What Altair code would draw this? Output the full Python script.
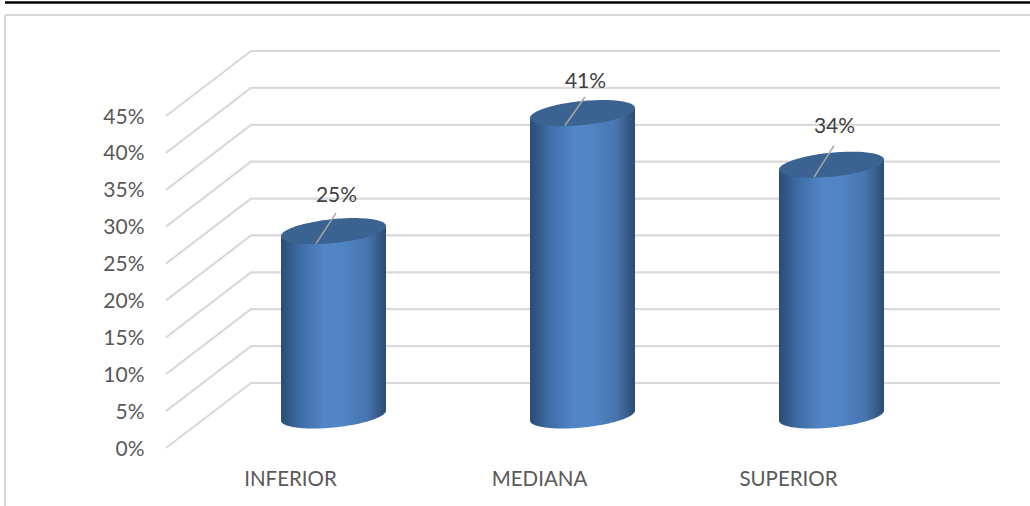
import numpy as np
import pandas as pd
import altair as alt

# Chart content
categories = ["INFERIOR", "MEDIANA", "SUPERIOR"]
values = [25, 41, 34]
tick_values = [0, 5, 10, 15, 20, 25, 30, 35, 40, 45]

# Scale factors and 3D projection, in axis units
PX_PER_PCT = 332 / 45
PX_PER_CAT = 249
DEPTH_X = 85 / PX_PER_CAT
DEPTH_Y = 65 / PX_PER_PCT
RADIUS_X = 52.5 / PX_PER_CAT
RADIUS_Y = 12 / PX_PER_PCT
TILT = 5 / PX_PER_PCT
LABEL_LIFT_PX = [35.5, 31.5, 37.5]
LEADER_TOP_PX = [18, 16, 19]

x_scale = alt.Scale(domain=[-125 / PX_PER_CAT, 709 / PX_PER_CAT], nice=False, zero=False)
y_scale = alt.Scale(domain=[0, 45 + DEPTH_Y], nice=False, zero=False)

FONT = "Lato"

label_expr = "+".join(
    [f"(datum.value=={i}?'{c}':'')" for i, c in enumerate(categories)]
)

x_axis = alt.Axis(
    values=[0, 1, 2], labelExpr=label_expr, title=None, grid=False, ticks=False,
    domain=False, labelPadding=31, labelFont=FONT, labelFontSize=20.5, labelOffset=-1,
    labelColor="#595959", labelBaseline="middle", labelOverlap=False, labelFlush=False)
y_axis = alt.Axis(
    values=tick_values, labelExpr="datum.value + '%'", title=None, grid=False,
    ticks=False, domain=False, labelPadding=22, labelFont=FONT, labelFontSize=21,
    labelOffset=1, labelColor="#595959", labelOverlap=False, labelFlush=False)


def xy(y_field="y"):
    """Position channels shared by every data layer."""
    return {
        "x": alt.X("x:Q", scale=x_scale, axis=x_axis),
        "y": alt.Y(f"{y_field}:Q", scale=y_scale, axis=y_axis),
    }


def arc_rows(bar, value):
    """Sample one cylinder: body outline and top cap, tilted to the right."""
    cx = bar + DEPTH_X / 2
    top = value + DEPTH_Y / 2
    base = DEPTH_Y / 2
    rows = []
    for t in np.linspace(np.pi, 0, 61):
        c, s = np.cos(t), np.sin(t)
        rows.append({
            "bar": bar,
            "x": cx + RADIUS_X * c,
            "body_top": top + TILT * c,
            "body_bottom": base + TILT * c - RADIUS_Y * s,
            "cap_top": top + TILT * c + RADIUS_Y * s,
            "cap_bottom": top + TILT * c - RADIUS_Y * s,
        })
    return rows


cyl = pd.DataFrame([r for i, v in enumerate(values) for r in arc_rows(i, v)])

grid = pd.DataFrame([
    row
    for v in tick_values
    for row in (
        {"tick": v, "x": -125 / PX_PER_CAT, "y": v},
        {"tick": v, "x": -125 / PX_PER_CAT + DEPTH_X, "y": v + DEPTH_Y},
        {"tick": v, "x": 709 / PX_PER_CAT, "y": v + DEPTH_Y},
    )
])

leaders = pd.DataFrame([
    row
    for i, v in enumerate(values)
    for row in (
        {"bar": i, "x": i + DEPTH_X / 2 + 2.5 / PX_PER_CAT,
         "y": v + DEPTH_Y / 2 + LEADER_TOP_PX[i] / PX_PER_PCT},
        {"bar": i, "x": i + DEPTH_X / 2 - 17.5 / PX_PER_CAT,
         "y": v + DEPTH_Y / 2 - 12.5 / PX_PER_PCT},
    )
])

labels = pd.DataFrame({
    "x": [i + DEPTH_X / 2 + 3 / PX_PER_CAT for i in range(3)],
    "y": [v + DEPTH_Y / 2 + LABEL_LIFT_PX[i] / PX_PER_PCT for i, v in enumerate(values)],
    "text": [f"{v}%" for v in values],
})

gridlines = alt.Chart(grid).mark_line(color="#d9d9d9", strokeWidth=2.2).encode(
    **xy(), detail="tick:N", order="x:Q",
)

body_fill = alt.Gradient(
    gradient="linear", x1=0, x2=1, y1=0, y2=0,
    stops=[
        alt.GradientStop(color="#2b4b75", offset=0),
        alt.GradientStop(color="#3f6ca6", offset=0.18),
        alt.GradientStop(color="#5386c8", offset=0.42),
        alt.GradientStop(color="#5084c4", offset=0.6),
        alt.GradientStop(color="#4775ae", offset=0.82),
        alt.GradientStop(color="#2c4b73", offset=1),
    ],
)

bodies = alt.Chart(cyl).mark_area(fill=body_fill).encode(
    **xy("body_top"), y2="body_bottom:Q", detail="bar:N",
)

caps = alt.Chart(cyl).mark_area(fill="#3b6392").encode(
    **xy("cap_top"), y2="cap_bottom:Q", detail="bar:N",
)

leader_lines = alt.Chart(leaders).mark_line(color="#a6a6a6", strokeWidth=1.5).encode(
    **xy(), detail="bar:N",
)

value_labels = alt.Chart(labels).mark_text(
    font=FONT, fontSize=21, color="#404040", baseline="middle", align="center"
).encode(**xy(), text="text:N")

# Frame drawn around the figure: heavy rule at the very top, light border below it
frame_anchor = alt.Chart(pd.DataFrame({"a": [0]}))
top_rule = frame_anchor.mark_rule(color="#000000", strokeWidth=2.5).encode(
    x=alt.value(-161), x2=alt.value(864), y=alt.value(-48.5))
border_top = frame_anchor.mark_rule(color="#d9d9d9", strokeWidth=2).encode(
    x=alt.value(-161), x2=alt.value(864), y=alt.value(-36))
border_left = frame_anchor.mark_rule(color="#d9d9d9", strokeWidth=2).encode(
    x=alt.value(-161), y=alt.value(-36), y2=alt.value(455))

chart = alt.layer(
    gridlines, top_rule, border_top, border_left,
    bodies, caps, leader_lines, value_labels,
).properties(
    width=834,
    height=397,
    padding={"left": 166, "top": 51, "right": 30, "bottom": 58},
    autosize=alt.AutoSizeParams(type="none"),
    background="#ffffff",
).configure_view(stroke=None)

chart.save("out.html", embed_options={"renderer": "svg", "actions": False})
